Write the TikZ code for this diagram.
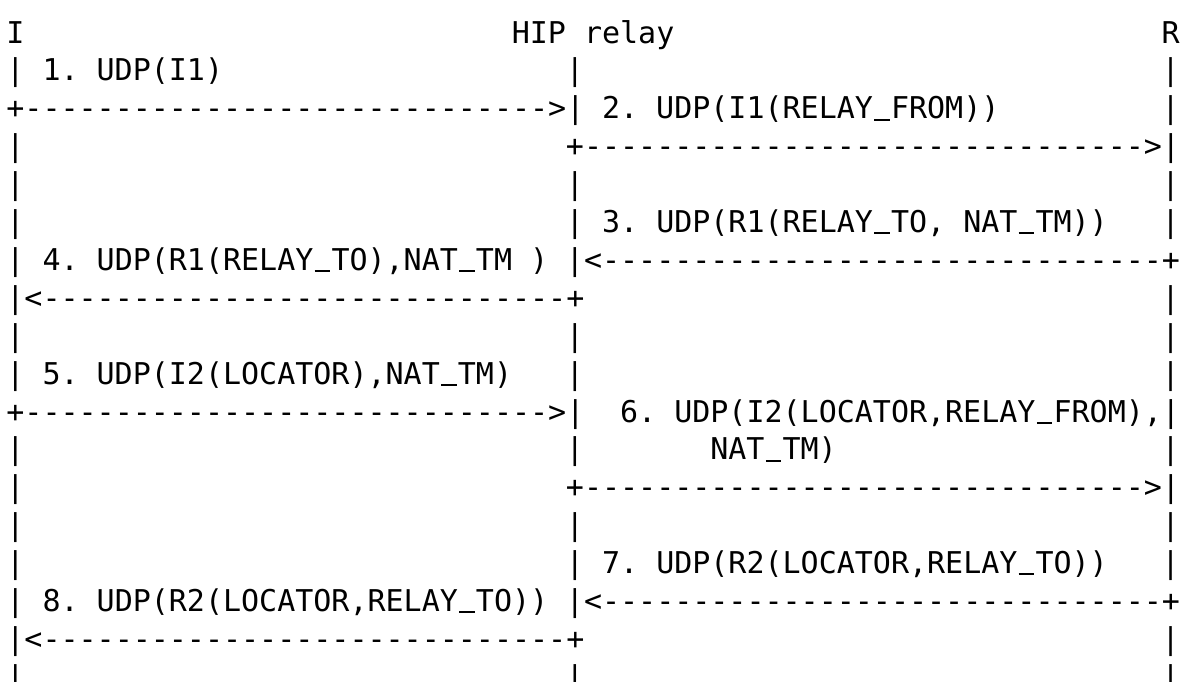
\documentclass[tikz,border=0pt]{standalone}
\usepackage{fontspec}
\setmonofont{DejaVu Sans Mono}
\newcommand\dashrep[1]{\ifnum#1>0 -\expandafter\dashrep\expandafter{\the\numexpr#1-1\relax}\fi}
\newcommand\us{\makebox[0.602em][c]{\rule[-0.06em]{0.52em}{0.065em}}}
\newcommand\asc[4]{\node[asciitxt] (#1) at ({6.4pt+18.05pt*#2},{-43pt-37.9pt*#3}) {#4};}
\tikzset{asciitxt/.style={anchor=base west,inner sep=0pt,outer sep=0pt,text=black,
  font=\ttfamily\fontsize{30pt}{36pt}\selectfont}}
\begin{document}
\begin{tikzpicture}
\useasboundingbox (0,0) rectangle (1183pt,-681pt);
% row 0
\asc{hI}{0}{0}{I}
\asc{hRelay}{28}{0}{HIP relay}
\asc{hR}{64}{0}{R}
% row 1
\asc{a1}{0}{1}{|}
\asc{m1}{2}{1}{1. UDP(I1)}
\asc{b1}{31}{1}{|}
\asc{c1}{64}{1}{|}
% row 2
\asc{a2}{0}{2}{+\dashrep{29}>|}
\asc{m2}{33}{2}{2. UDP(I1(RELAY\us FROM))}
\asc{c2}{64}{2}{|}
% row 3
\asc{a3}{0}{3}{|}
\asc{b3}{31}{3}{+\dashrep{31}>|}
% row 4
\asc{a4}{0}{4}{|}
\asc{b4}{31}{4}{|}
\asc{c4}{64}{4}{|}
% row 5
\asc{a5}{0}{5}{|}
\asc{b5}{31}{5}{| 3. UDP(R1(RELAY\us TO, NAT\us TM))}
\asc{c5}{64}{5}{|}
% row 6
\asc{a6}{0}{6}{| 4. UDP(R1(RELAY\us TO),NAT\us TM )}
\asc{b6}{31}{6}{|<\dashrep{31}+}
% row 7
\asc{a7}{0}{7}{|<\dashrep{29}+}
\asc{c7}{64}{7}{|}
% row 8
\asc{a8}{0}{8}{|}
\asc{b8}{31}{8}{|}
\asc{c8}{64}{8}{|}
% row 9
\asc{a9}{0}{9}{|}
\asc{m9}{2}{9}{5. UDP(I2(LOCATOR),NAT\us TM)}
\asc{b9}{31}{9}{|}
\asc{c9}{64}{9}{|}
% row 10
\asc{a10}{0}{10}{+\dashrep{29}>|}
\asc{m10}{34}{10}{6. UDP(I2(LOCATOR,RELAY\us FROM),|}
% row 11
\asc{a11}{0}{11}{|}
\asc{b11}{31}{11}{|}
\asc{m11}{39}{11}{NAT\us TM)}
\asc{c11}{64}{11}{|}
% row 12
\asc{a12}{0}{12}{|}
\asc{b12}{31}{12}{+\dashrep{31}>|}
% row 13
\asc{a13}{0}{13}{|}
\asc{b13}{31}{13}{|}
\asc{c13}{64}{13}{|}
% row 14
\asc{a14}{0}{14}{|}
\asc{b14}{31}{14}{| 7. UDP(R2(LOCATOR,RELAY\us TO))}
\asc{c14}{64}{14}{|}
% row 15
\asc{a15}{0}{15}{| 8. UDP(R2(LOCATOR,RELAY\us TO))}
\asc{b15}{31}{15}{|<\dashrep{31}+}
% row 16
\asc{a16}{0}{16}{|<\dashrep{29}+}
\asc{c16}{64}{16}{|}
% row 17
\asc{a17}{0}{17}{|}
\asc{b17}{31}{17}{|}
\asc{c17}{64}{17}{|}
\end{tikzpicture}
\end{document}
